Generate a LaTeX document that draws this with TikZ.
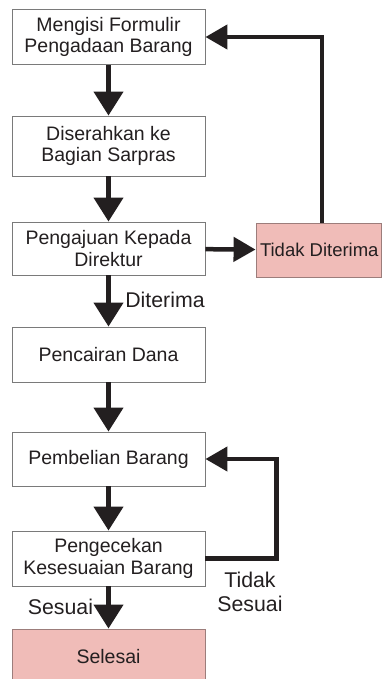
\documentclass[tikz,border=0pt]{standalone}
\usepackage{fontspec}
\setmainfont{Liberation Sans}
\usepackage{xcolor}
\usetikzlibrary{positioning,arrows.meta}

\definecolor{inkdark}{HTML}{231F20}
\definecolor{boxline}{HTML}{7A7A7A}
\definecolor{pinkfill}{HTML}{F0BCB8}
\definecolor{pinkline}{HTML}{9C7D7B}

\tikzset{
  stepbox/.style={draw=boxline, line width=0.9pt, fill=white, minimum width=193pt,
    minimum height=55pt, align=center, inner sep=0pt, text=inkdark},
  endbox/.style={stepbox, draw=pinkline, fill=pinkfill},
  vflow/.style={draw=inkdark, line width=4.5pt, -{Triangle[width=29pt,length=24pt]}},
  hflow/.style={draw=inkdark, line width=4.5pt, -{Triangle[width=24pt,length=22pt]}},
  lbl/.style={text=inkdark, align=center, inner sep=0pt, font=\fontsize{21.3}{24}\selectfont}
}

\begin{document}
\begin{tikzpicture}[x=1pt,y=-1pt,font=\fontsize{19.5}{21.5}\selectfont]
\useasboundingbox (0,0) rectangle (382,679);

% main boxes
\node[stepbox] (formulir) at (108.5,37) {Mengisi Formulir\\Pengadaan Barang};
\node[stepbox, minimum height=60pt] (sarpras) at (108.5,146) {Diserahkan ke\\Bagian Sarpras};
\node[stepbox, minimum height=53pt] (direktur) at (108.5,248.5) {Pengajuan Kepada\\Direktur};
\node[stepbox] (dana) at (108.5,354.5) {Pencairan Dana};
\node[stepbox, minimum height=54pt] (beli) at (108.5,459) {Pembelian Barang};
\node[stepbox] (cek) at (108.5,558.5) {Pengecekan\\Kesesuaian Barang};
\node[endbox] (selesai) at (108.5,656.5) {Selesai};

% rejected box
\node[endbox, minimum width=125pt, minimum height=54pt, inner xsep=4pt,
  font=\fontsize{18.5}{20}\selectfont] (tolak) at (318.5,250)
  {\makebox[117pt][l]{Tidak Diterima}};

% labels
\node[lbl] (lditerima) at (165,300) {Diterima};
\node[lbl] (lsesuai) at (60.5,607) {Sesuai};
\node[lbl] (ltidak) at (250,592) {Tidak\\Sesuai};

% arrows down
\draw[vflow] (formulir) -- (sarpras);
\draw[vflow] (sarpras) -- (direktur);
\draw[vflow] (direktur) -- (dana);
\draw[vflow] (dana) -- (beli);
\draw[vflow] (beli) -- (cek);
\draw[vflow] (cek) -- (selesai);

% arrows back
\draw[hflow] (direktur) -- (tolak);
\draw[hflow] ([xshift=3.5pt]tolak.north) |- (formulir.east);
\draw[hflow] (cek.east) -- ++(71,0) |- (beli.east);

\end{tikzpicture}
\end{document}
